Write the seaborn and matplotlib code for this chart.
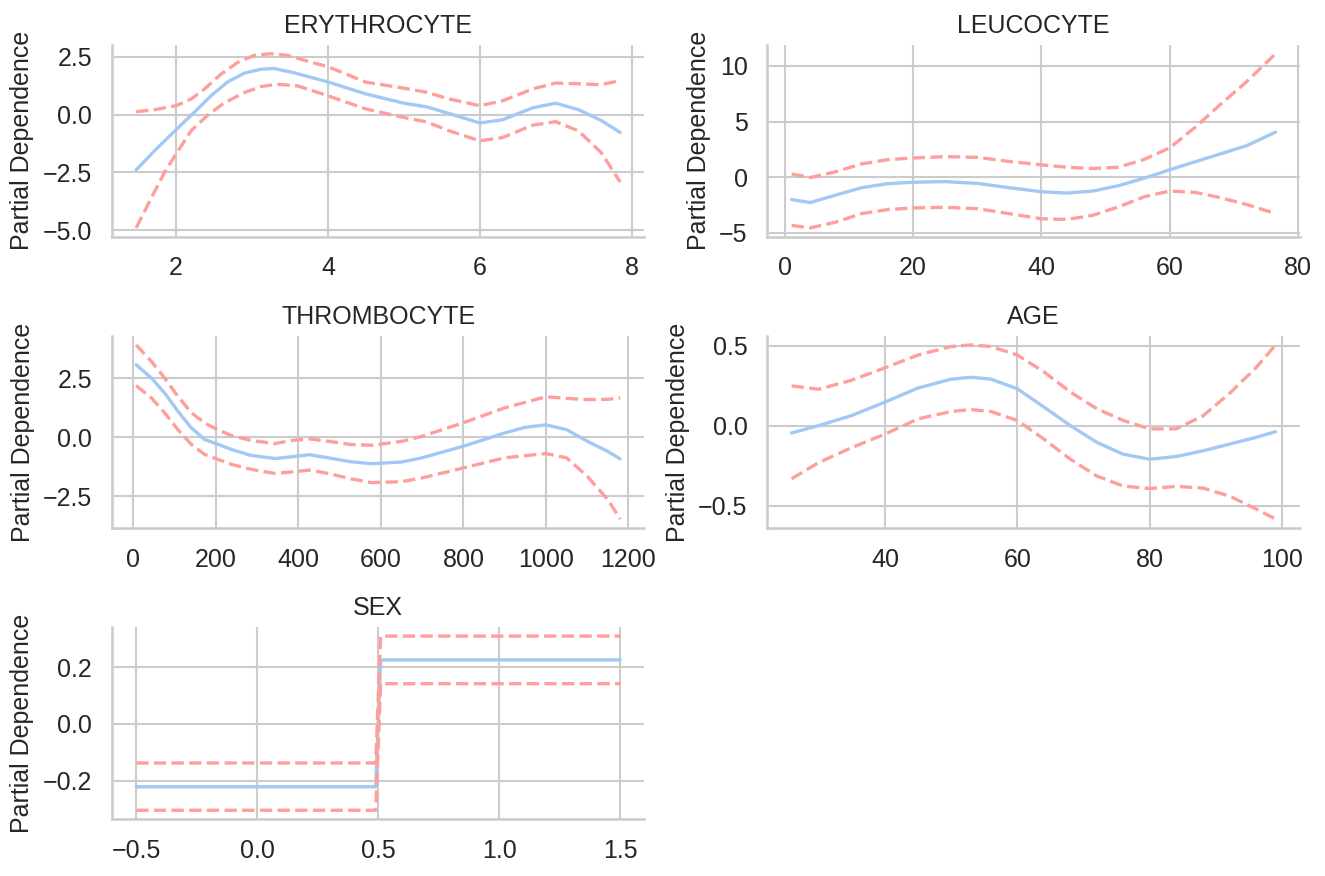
import numpy as np
import pandas as pd
import matplotlib.pyplot as plt
import seaborn as sns
from matplotlib.ticker import FixedLocator

# ERYTHROCYTE (each curve read at its own x positions)
ery_x_pd = [1.475, 1.72, 2.0, 2.24, 2.46, 2.68, 2.9, 3.12, 3.29, 3.55, 4.0, 4.5, 5.0, 5.3, 5.6, 6.0, 6.3, 6.7, 7.0, 7.3, 7.6, 7.85]
ery_pd = [-2.39, -1.55, -0.65, 0.1, 0.82, 1.42, 1.8, 1.97, 2.0, 1.82, 1.42, 0.9, 0.5, 0.34, 0.05, -0.36, -0.22, 0.3, 0.5, 0.22, -0.25, -0.77]
ery_x_hi = [1.475, 1.72, 2.0, 2.2, 2.37, 2.59, 2.81, 3.03, 3.25, 3.47, 3.77, 4.0, 4.5, 5.0, 5.3, 5.6, 6.0, 6.3, 6.7, 7.0, 7.3, 7.6, 7.85]
ery_hi = [0.13, 0.22, 0.39, 0.68, 1.1, 1.75, 2.26, 2.57, 2.64, 2.57, 2.28, 2.08, 1.41, 1.15, 0.97, 0.68, 0.39, 0.6, 1.12, 1.37, 1.34, 1.3, 1.48]
ery_x_lo = [1.475, 1.67, 1.85, 2.0, 2.2, 2.42, 2.63, 2.9, 3.12, 3.33, 3.6, 4.0, 4.5, 5.0, 5.3, 5.6, 6.0, 6.3, 6.7, 7.0, 7.3, 7.6, 7.85]
ery_lo = [-4.9, -3.63, -2.49, -1.7, -0.69, -0.01, 0.5, 0.96, 1.22, 1.32, 1.25, 0.82, 0.25, -0.12, -0.31, -0.7, -1.13, -0.99, -0.45, -0.3, -0.7, -1.64, -2.92]

# LEUCOCYTE
leu_x = [1.1, 4, 8, 12, 16, 20, 25, 30, 35, 40, 44, 48, 52, 56, 60, 64, 68, 72, 76.5]
leu_pd = [-2.0, -2.27, -1.6, -0.94, -0.58, -0.45, -0.39, -0.55, -0.94, -1.3, -1.42, -1.24, -0.76, -0.09, 0.67, 1.4, 2.12, 2.84, 4.06]
leu_hi = [0.3, -0.03, 0.5, 1.2, 1.58, 1.73, 1.85, 1.79, 1.42, 1.12, 0.9, 0.78, 0.9, 1.6, 2.64, 4.5, 6.6, 8.6, 11.1]
leu_lo = [-4.33, -4.55, -4.03, -3.27, -2.91, -2.76, -2.7, -2.82, -3.27, -3.73, -3.79, -3.42, -2.67, -1.76, -1.24, -1.36, -1.85, -2.45, -3.27]

# THROMBOCYTE
thr_x_pd = [7, 44, 76, 108, 141, 173, 201, 238, 286, 343, 383, 427, 472, 528, 577, 650, 700, 800, 900, 950, 1000, 1050, 1100, 1150, 1180]
thr_pd = [3.06, 2.5, 1.87, 1.1, 0.39, -0.1, -0.27, -0.52, -0.77, -0.9, -0.83, -0.74, -0.87, -1.04, -1.12, -1.05, -0.87, -0.38, 0.18, 0.42, 0.52, 0.32, -0.17, -0.6, -0.92]
thr_x = [7, 44, 76, 108, 141, 173, 201, 238, 286, 343, 383, 427, 472, 528, 577, 650, 700, 800, 900, 1000, 1050, 1100, 1150, 1180]
thr_hi = [3.9, 3.2, 2.5, 1.73, 1.03, 0.6, 0.35, 0.07, -0.14, -0.27, -0.14, -0.07, -0.17, -0.31, -0.34, -0.18, 0.04, 0.61, 1.24, 1.71, 1.64, 1.59, 1.6, 1.66]
thr_lo = [2.18, 1.66, 1.03, 0.32, -0.31, -0.73, -0.91, -1.15, -1.36, -1.53, -1.47, -1.39, -1.53, -1.76, -1.92, -1.88, -1.72, -1.3, -0.87, -0.69, -0.87, -1.65, -2.64, -3.46]

# AGE
age_x = [25.9, 30, 35, 40, 45, 50, 53, 56, 60, 64, 68, 72, 76, 80, 84, 88, 92, 96, 99]
age_pd = [-0.046, 0.0, 0.063, 0.147, 0.235, 0.29, 0.302, 0.29, 0.23, 0.116, 0.0, -0.105, -0.179, -0.21, -0.193, -0.158, -0.116, -0.074, -0.038]
age_hi = [0.248, 0.227, 0.284, 0.361, 0.441, 0.494, 0.504, 0.494, 0.441, 0.336, 0.21, 0.105, 0.032, -0.021, -0.02, 0.06, 0.2, 0.36, 0.504]
age_lo = [-0.332, -0.231, -0.137, -0.053, 0.042, 0.088, 0.1, 0.088, 0.032, -0.084, -0.21, -0.315, -0.378, -0.393, -0.38, -0.39, -0.44, -0.52, -0.584]

# SEX
sex_x = [-0.5, 0.4899, 0.5101, 1.5]
sex_pd = [-0.222, -0.222, 0.226, 0.226]
sex_hi = [-0.138, -0.138, 0.31, 0.31]
sex_lo = [-0.305, -0.305, 0.142, 0.142]

features = ['ERYTHROCYTE', 'LEUCOCYTE', 'THROMBOCYTE', 'AGE', 'SEX']
# (x for pd, pd, x for upper, upper, x for lower, lower)
curves = [
    (ery_x_pd, ery_pd, ery_x_hi, ery_hi, ery_x_lo, ery_lo),
    (leu_x, leu_pd, leu_x, leu_hi, leu_x, leu_lo),
    (thr_x_pd, thr_pd, thr_x, thr_hi, thr_x, thr_lo),
    (age_x, age_pd, age_x, age_hi, age_x, age_lo),
    (sex_x, sex_pd, sex_x, sex_hi, sex_x, sex_lo),
]

# tick positions as in the original
xticks = [
    [2, 4, 6, 8],
    [0, 20, 40, 60, 80],
    [0, 200, 400, 600, 800, 1000, 1200],
    [40, 60, 80, 100],
    [-0.5, 0.0, 0.5, 1.0, 1.5],
]
yticks = [
    [-5.0, -2.5, 0.0, 2.5],
    [-5, 0, 5, 10],
    [-2.5, 0.0, 2.5],
    [-0.5, 0.0, 0.5],
    [-0.2, 0.0, 0.2],
]

sns.set_theme(style='whitegrid', palette='pastel',
              rc={'xtick.labelsize': 12, 'ytick.labelsize': 12,
                  'axes.labelsize': 12, 'axes.titlesize': 12})
plt.rcParams['font.family'] = ['Liberation Sans', 'DejaVu Sans']
pal = sns.color_palette('pastel')

fig, axes = plt.subplots(3, 2, figsize=(1325 / 150, 876 / 150), dpi=150)
axes = axes.flatten()

for i, name in enumerate(features):
    ax = axes[i]
    xp, pdep, xh, hi, xl, lo = curves[i]
    sns.lineplot(x=xp, y=pdep, ax=ax, color=pal[0], linewidth=1.6)
    sns.lineplot(x=xh, y=hi, ax=ax, color=pal[3], linestyle='--', linewidth=1.6)
    sns.lineplot(x=xl, y=lo, ax=ax, color=pal[3], linestyle='--', linewidth=1.6)
    ax.xaxis.set_major_locator(FixedLocator(xticks[i]))
    ax.yaxis.set_major_locator(FixedLocator(yticks[i]))
    ax.set_title(name)
    ax.set_xlabel('')
    ax.set_ylabel('Partial Dependence')

fig.delaxes(axes[5])
sns.despine()
fig.subplots_adjust(left=0.0845, right=0.981, top=0.9486, bottom=0.0651,
                    wspace=0.231, hspace=0.52)
plt.savefig('out.png', dpi=150)
